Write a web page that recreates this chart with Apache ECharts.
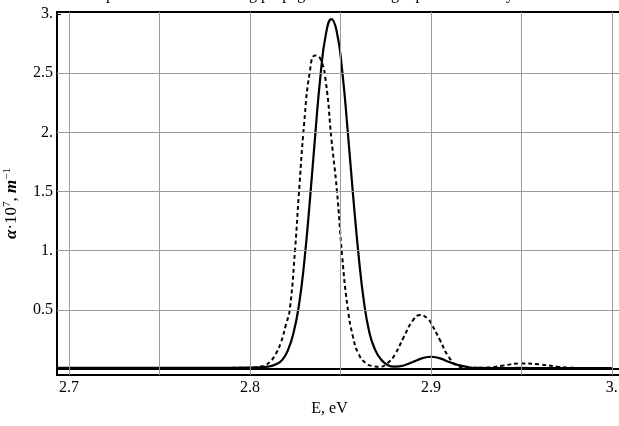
<!DOCTYPE html>
<html>
<head>
<meta charset="utf-8">
<script src="https://cdn.jsdelivr.net/npm/echarts@6/dist/echarts.min.js"></script>
<style>html,body{margin:0;padding:0;background:#fff}#c{width:619px;height:426px}</style>
</head>
<body>
<div id="c"></div>
<script>
// ---- data ----
const solidE = [2.6934, 2.78, 2.80, 2.81, 2.815, 2.818, 2.821, 2.824, 2.827, 2.830, 2.833, 2.836, 2.839, 2.842, 2.845, 2.848, 2.851, 2.854, 2.857, 2.860, 2.863, 2.866, 2.869, 2.872, 2.876, 2.880, 2.885, 2.890, 2.895, 2.900, 2.905, 2.910, 2.915, 2.920, 2.925, 2.940, 2.950, 2.960, 3.000];
const solidAlpha = [0.01, 0.01, 0.012, 0.02, 0.045, 0.08, 0.16, 0.30, 0.53, 0.90, 1.40, 1.96, 2.48, 2.83, 2.956, 2.85, 2.52, 2.02, 1.47, 0.97, 0.57, 0.31, 0.17, 0.09, 0.035, 0.02, 0.03, 0.06, 0.09, 0.104, 0.09, 0.06, 0.035, 0.018, 0.01, 0.008, 0.01, 0.008, 0.008];
const dashedE = [2.6934, 2.78, 2.80, 2.805, 2.808, 2.811, 2.814, 2.817, 2.820, 2.822, 2.825, 2.827, 2.830, 2.833, 2.836, 2.839, 2.842, 2.845, 2.848, 2.851, 2.854, 2.857, 2.860, 2.864, 2.868, 2.872, 2.876, 2.880, 2.885, 2.890, 2.894, 2.898, 2.900, 2.905, 2.910, 2.915, 2.920, 2.930, 2.940, 2.950, 2.960, 2.970, 2.980, 3.000];
const dashedAlpha = [0.01, 0.01, 0.012, 0.02, 0.03, 0.06, 0.12, 0.22, 0.38, 0.50, 1.02, 1.47, 2.08, 2.50, 2.65, 2.62, 2.42, 1.95, 1.52, 0.95, 0.52, 0.27, 0.13, 0.05, 0.025, 0.02, 0.05, 0.12, 0.27, 0.41, 0.456, 0.43, 0.39, 0.245, 0.10, 0.025, 0.01, 0.012, 0.03, 0.048, 0.04, 0.02, 0.01, 0.008];
const xTickLabels = [2.7, 2.8, 2.9, 3.0];
const xTicks = [2.7, 2.75, 2.8, 2.85, 2.9, 2.95, 3.0];
const yTickLabels = [0.5, 1.0, 1.5, 2.0, 2.5, 3.0];
const yTicks = [0, 0.5, 1.0, 1.5, 2.0, 2.5, 3.0];
const xGrid = [2.7, 2.75, 2.8, 2.85, 2.9, 2.95, 3.0];
const yGrid = [0.5, 1.0, 1.5, 2.0, 2.5];
const titleText = 'Absorption coefficient during propagation of the light pulse in the crystal';
const xName = 'E, eV';

const serif = '"Liberation Serif", "DejaVu Serif", serif';
const fmt = v => {
  const r = Math.round(v * 10) / 10;
  return Number.isInteger(r) ? r + '.' : String(r);
};

const chart = echarts.init(document.getElementById('c'), null, {renderer: 'canvas'});
chart.setOption({
  animation: false,
  backgroundColor: '#fff',
  title: {
    text: titleText,
    left: 62,
    top: -18,
    textStyle: {fontFamily: serif, fontSize: 16, fontWeight: 'normal', color: '#000'}
  },
  grid: {left: 57, top: 12, width: 563, height: 363, containLabel: false, outerBoundsMode: 'none', show: true, borderColor: '#000', borderWidth: 2, backgroundColor: 'transparent'},
  xAxis: {
    type: 'value',
    min: 2.6934, max: 3.0045,
    name: xName,
    nameLocation: 'middle',
    nameGap: 21,
    nameTextStyle: {fontFamily: serif, fontSize: 16, color: '#000', padding: [0, 18, 0, 0]},
    axisLine: {show: true, lineStyle: {color: '#000', width: 2}},
    axisTick: {show: true, inside: true, length: 4, customValues: xTicks, lineStyle: {color: '#000', width: 1}},
    axisLabel: {customValues: xTickLabels, formatter: fmt, fontFamily: serif, fontSize: 16, color: '#000', margin: 5},
    splitLine: {show: false}
  },
  yAxis: {
    type: 'value',
    min: -0.05, max: 3.017,
    name: '{i|α}·10{s|7}, {i|m}{s|−1}',
    nameLocation: 'middle',
    nameGap: 36,
    nameRotate: 90,
    nameTextStyle: {
      fontFamily: serif, fontSize: 17, color: '#000', padding: [0, 20, 0, 0],
      rich: {
        i: {fontFamily: serif, fontStyle: 'italic', fontWeight: 'bold', fontSize: 17, color: '#000'},
        s: {fontFamily: serif, fontSize: 11, color: '#000', verticalAlign: 'top', padding: [0, 0, 8, 0]}
      }
    },
    axisLine: {show: true, lineStyle: {color: '#000', width: 2}},
    axisTick: {show: true, inside: true, length: 4, customValues: yTicks, lineStyle: {color: '#000', width: 1}},
    axisLabel: {customValues: yTickLabels, formatter: fmt, fontFamily: serif, fontSize: 16, color: '#000', margin: 4},
    splitLine: {show: false}
  },
  series: [
    {
      type: 'line',
      data: [],
      z: 1,
      silent: true,
      markLine: {
        silent: true,
        symbol: 'none',
        label: {show: false},
        lineStyle: {color: '#9a9a9a', type: 'solid', width: 1},
        data: xGrid.map(v => ({xAxis: v})).concat(yGrid.map(v => ({yAxis: v})))
      }
    },
    {
      type: 'line',
      z: 3,
      data: dashedE.map((e, i) => [e, dashedAlpha[i]]),
      showSymbol: false,
      smooth: 0.5,
      lineStyle: {color: '#000', width: 2, type: [4, 3]}
    },
    {
      type: 'line',
      z: 4,
      data: solidE.map((e, i) => [e, solidAlpha[i]]),
      showSymbol: false,
      smooth: 0.5,
      lineStyle: {color: '#000', width: 2.2, type: 'solid'}
    }
  ]
});
</script>
</body>
</html>
